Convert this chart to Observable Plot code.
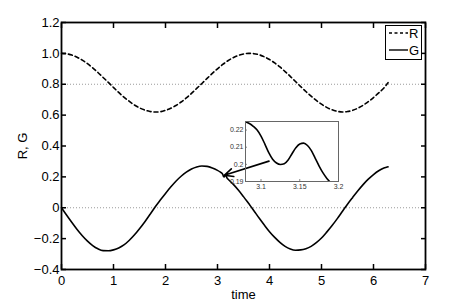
<!DOCTYPE html>
<html><head><meta charset="utf-8">
<script src="https://cdn.jsdelivr.net/npm/d3@7"></script>
<script src="https://cdn.jsdelivr.net/npm/@observablehq/plot@0.6"></script>
<style>
body{margin:0;background:#fff;}
#wrap{position:relative;width:469px;height:304px;font-family:"Liberation Sans",Arial,sans-serif;}
#wrap > svg{position:absolute;}
#legend{position:absolute;left:385px;top:25px;width:35px;height:33px;border:1.5px solid #000;background:#fff;font-size:13px;color:#000;}
#legend span{position:absolute;left:23px;line-height:15px;}
</style></head><body><div id="wrap"></div>
<script>
// ---- data ----
const seriesNames = ["R", "G"];
const tR = [0,0.1,0.2,0.3,0.4,0.5,0.6,0.7,0.8,0.9,1.0,1.1,1.2,1.3,1.4,1.5,1.6,1.7,1.8,1.9,2.0,2.1,2.2,2.3,2.4,2.5,2.6,2.7,2.8,2.9,3.0,3.1,3.2,3.3,3.4,3.5,3.6,3.7,3.8,3.9,4.0,4.1,4.2,4.3,4.4,4.5,4.6,4.7,4.8,4.9,5.0,5.1,5.2,5.3,5.4,5.5,5.6,5.7,5.8,5.9,6.0,6.1,6.2,6.28];
const R  = [1.000,0.997,0.989,0.975,0.956,0.933,0.906,0.876,0.844,0.812,0.779,0.747,0.717,0.690,0.666,0.647,0.633,0.624,0.620,0.622,0.631,0.644,0.662,0.685,0.711,0.741,0.773,0.805,0.838,0.870,0.900,0.928,0.952,0.972,0.987,0.996,1.000,0.998,0.991,0.978,0.960,0.938,0.912,0.882,0.851,0.818,0.785,0.753,0.723,0.695,0.671,0.650,0.635,0.625,0.620,0.623,0.631,0.645,0.664,0.687,0.714,0.744,0.776,0.810];
const tInset = [3.080,3.085,3.090,3.095,3.100,3.105,3.110,3.115,3.120,3.125,3.130,3.135,3.140,3.145,3.150,3.155,3.160,3.165,3.170,3.175,3.180,3.185,3.190,3.195];
const gInset = [0.2248,0.2238,0.2222,0.2200,0.2165,0.2118,0.2068,0.2030,0.2008,0.1999,0.2003,0.2025,0.2062,0.2097,0.2119,0.2124,0.2110,0.2080,0.2035,0.1990,0.1950,0.1918,0.1893,0.1875];
const tG1 = [0,0.1,0.2,0.3,0.4,0.5,0.6,0.7,0.8,0.9,1.0,1.1,1.2,1.3,1.4,1.5,1.6,1.7,1.79,1.8,1.9,2.0,2.1,2.2,2.3,2.4,2.5,2.6,2.7,2.8,2.9,3.0,3.05];
const G1  = [0,-0.049,-0.096,-0.141,-0.181,-0.216,-0.245,-0.266,-0.278,-0.279,-0.273,-0.261,-0.241,-0.212,-0.177,-0.136,-0.092,-0.044,0,0.005,0.050,0.093,0.134,0.172,0.204,0.231,0.251,0.264,0.270,0.268,0.258,0.242,0.232];
const tG2 = [3.2,3.3,3.4,3.5,3.6,3.66,3.7,3.8,3.9,4.0,4.1,4.2,4.3,4.4,4.5,4.6,4.7,4.8,4.9,5.0,5.1,5.2,5.3,5.4,5.45,5.5,5.6,5.7,5.8,5.9,6.0,6.1,6.2,6.28];
const G2  = [0.186,0.153,0.115,0.072,0.027,0,-0.019,-0.067,-0.112,-0.155,-0.192,-0.224,-0.250,-0.267,-0.275,-0.273,-0.265,-0.250,-0.226,-0.196,-0.158,-0.117,-0.072,-0.024,0,0.023,0.067,0.110,0.150,0.185,0.215,0.240,0.257,0.265];
const xTicks = [0,1,2,3,4,5,6,7];
const yTicks = [-0.4,-0.2,0,0.2,0.4,0.6,0.8,1.0,1.2];
const refLevels = [0, 0.8];
const insetXTicks = [3.1,3.15,3.2];
const insetYTicks = [0.19,0.2,0.21,0.22];
const arrowNote = [{x1:3.99, y1:0.302, x2:3.13, y2:0.21}];

// ---- tables built from arrays ----
const rData = tR.map((t,i)=>({t, v:R[i]}));
const tGall = tG1.concat(tInset.slice(0,-1), tG2);
const gAll = G1.concat(gInset.slice(0,-1), G2);
const gData = tGall.map((t,i)=>({t, v:gAll[i]}));
const insetData = tInset.map((t,i)=>({t, v:gInset[i]}));

const yFmt = d => d === 0 ? "0" : d.toFixed(1).replace("-", "\u2212");
const font = '"Liberation Sans", Arial, sans-serif';

const main = Plot.plot({
  width: 469, height: 304,
  marginLeft: 61, marginRight: 44, marginTop: 22, marginBottom: 35,
  style: {fontFamily: font, fontSize: "13px", color: "#000", background: "#fff", overflow: "visible"},
  x: {domain: [0, 7]},
  y: {domain: [-0.4, 1.2]},
  marks: [
    Plot.ruleY(refLevels, {stroke: "#9a9a9a", strokeWidth: 1, strokeDasharray: "1,2"}),
    Plot.line(rData, {x: "t", y: "v", stroke: "#000", strokeWidth: 1.6, strokeDasharray: "4,3", curve: "monotone-x"}),
    Plot.line(gData, {x: "t", y: "v", stroke: "#000", strokeWidth: 1.6, curve: "monotone-x"}),
    Plot.arrow(arrowNote, {x1: "x1", y1: "y1", x2: "x2", y2: "y2", stroke: "#000", strokeWidth: 1.6, headLength: 9, headAngle: 50}),
    Plot.axisX(xTicks, {anchor: "bottom", tickSize: -5, tickPadding: 11, tickFormat: d => String(d), strokeWidth: 1.5, label: "time", labelAnchor: "center", labelArrow: "none", labelOffset: 29}),
    Plot.axisX(xTicks, {anchor: "top", tickSize: -5, tickFormat: () => "", strokeWidth: 1.5, label: null}),
    Plot.axisY(yTicks, {anchor: "left", tickSize: -5, tickPadding: 7, tickFormat: yFmt, strokeWidth: 1.5, label: "R, G", labelAnchor: "center", labelArrow: "none", labelOffset: 44}),
    Plot.axisY(yTicks, {anchor: "right", tickSize: -5, tickFormat: () => "", strokeWidth: 1.5, label: null}),
    Plot.frame({stroke: "#000", strokeWidth: 1.8})
  ]
});
main.style.left = "0px"; main.style.top = "0px";

const inset = Plot.plot({
  width: 130, height: 80,
  marginLeft: 30, marginRight: 7, marginTop: 6, marginBottom: 14,
  style: {fontFamily: font, fontSize: "7px", color: "#333", background: "transparent", overflow: "visible"},
  x: {domain: [3.08, 3.2]},
  y: {domain: [0.19, 0.225]},
  marks: [
    Plot.line(insetData, {x: "t", y: "v", stroke: "#000", strokeWidth: 1.6, curve: "monotone-x", clip: true}),
    Plot.axisX(insetXTicks, {anchor: "bottom", tickSize: -2, tickPadding: 5, tickFormat: d => String(d), stroke: "#888", label: null}),
    Plot.axisY(insetYTicks, {anchor: "left", tickSize: -2, tickPadding: 4, tickFormat: d => String(d), stroke: "#888", label: null}),
    Plot.frame({stroke: "#666", strokeWidth: 1})
  ]
});
inset.style.left = "215px"; inset.style.top = "115px";

const wrap = document.getElementById("wrap");
wrap.appendChild(main);
wrap.appendChild(inset);

// legend
const leg = document.createElement("div");
leg.id = "legend";
const dashes = ["3,2.5", null];
let svgs = '<svg width="35" height="33" style="position:absolute;left:0;top:0">';
seriesNames.forEach((n,i)=>{
  const y = 7 + i*17;
  svgs += `<line x1="3" y1="${y}" x2="22" y2="${y}" stroke="#000" stroke-width="1.4" ${dashes[i] ? `stroke-dasharray="${dashes[i]}"` : ""}/>`;
});
svgs += '</svg>';
leg.innerHTML = svgs + seriesNames.map((n,i)=>`<span style="top:${i*17}px">${n}</span>`).join("");
wrap.appendChild(leg);
</script>
</body></html>
